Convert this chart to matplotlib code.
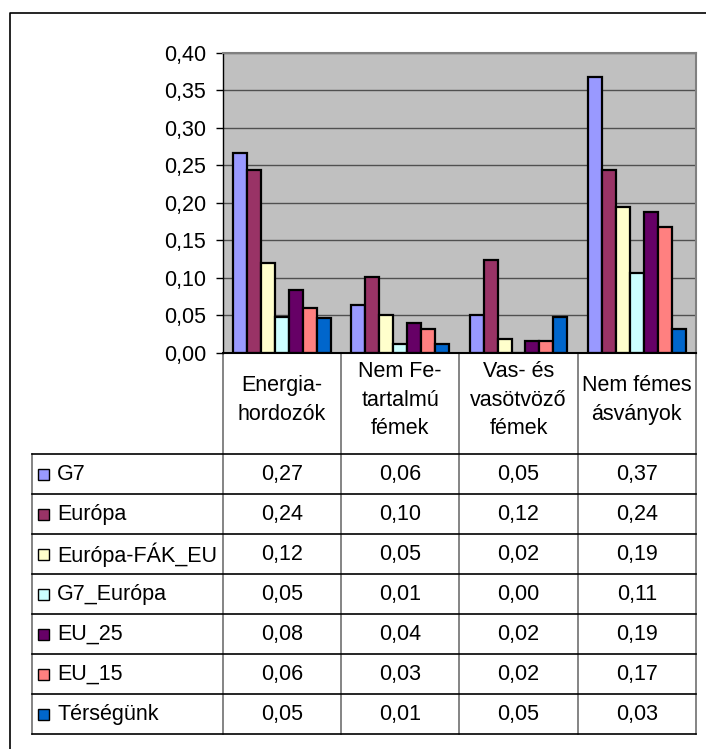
import matplotlib
matplotlib.use("Agg")
import matplotlib.pyplot as plt
from matplotlib.patches import Rectangle
from matplotlib.ticker import FuncFormatter, MultipleLocator
import numpy as np

plt.rcParams['font.family'] = ['Liberation Sans', 'DejaVu Sans']

categories = ["Energia-\nhordozók", "Nem Fe-\ntartalmú\nfémek",
              "Vas- és\nvasötvöző\nfémek", "Nem fémes\násványok"]
series_names = ["G7", "Európa", "Európa-FÁK_EU", "G7_Európa",
                "EU_25", "EU_15", "Térségünk"]
g7 = [0.266, 0.064, 0.050, 0.368]
europa = [0.243, 0.101, 0.124, 0.243]
europa_fak_eu = [0.120, 0.050, 0.018, 0.194]
g7_europa = [0.048, 0.011, 0.000, 0.106]
eu_25 = [0.084, 0.040, 0.016, 0.187]
eu_15 = [0.059, 0.032, 0.016, 0.168]
tersegunk = [0.046, 0.011, 0.048, 0.032]
series_values = [g7, europa, europa_fak_eu, g7_europa, eu_25, eu_15, tersegunk]
colors = ["#9999FF", "#993366", "#FFFFCC", "#CCFFFF", "#660066", "#FF8080", "#0066CC"]

W, H = 706, 749
FS = 15.5
fig = plt.figure(figsize=(W / 100, H / 100), dpi=100)

# pixel geometry of the plot area and data table
px_left, px_right = 222.7, 696.0
px_top, px_bottom = 52.7, 352.7
tbl_left = 31.7
row_top = 454.3
row_h = 40.0

ax = fig.add_axes([px_left / W, 1 - px_bottom / H,
                   (px_right - px_left) / W, (px_bottom - px_top) / H])
ax.set_facecolor("#C0C0C0")
n = len(series_values)
bw = 1 / (n + 1.5)
x = np.arange(len(categories))
for i, (vals, c) in enumerate(zip(series_values, colors)):
    ax.bar(x + (i - (n - 1) / 2) * bw, vals, width=bw, color=c,
           edgecolor="black", linewidth=1.6, zorder=3)
ax.set_xlim(-0.5, len(categories) - 0.5)
ax.set_ylim(0, 0.40)
ax.yaxis.set_major_locator(MultipleLocator(0.05))
ax.yaxis.set_major_formatter(FuncFormatter(lambda v, p: f"{v:.2f}".replace(".", ",")))
ax.grid(axis="y", color="#505050", linewidth=1.0, zorder=1)
ax.set_xticks([])
ax.tick_params(axis="y", direction="out", length=5, width=1, pad=7, labelsize=FS)
for s in ("top", "right"):
    ax.spines[s].set_color("#808080")
    ax.spines[s].set_linewidth(1.5)
ax.spines["left"].set_color("black")
ax.spines["bottom"].set_color("black")
ax.spines["left"].set_linewidth(1.0)
ax.spines["bottom"].set_linewidth(1.5)
ax.spines["bottom"].set_zorder(5)

# overlay in pixel coordinates for the frame and the data table
ov = fig.add_axes([0, 0, 1, 1], zorder=-1)
ov.set_xlim(0, W)
ov.set_ylim(H, 0)
ov.axis("off")

# outer chart frame
ov.plot([10, 10, W + 5], [H + 5, 13.3, 13.3], color="black", linewidth=1.2)

col_w = (px_right - px_left) / len(categories)
col_edges = [px_left + k * col_w for k in range(len(categories) + 1)]
row_bottom = row_top + row_h * n
grey = "#707070"

# vertical table lines
for xe in col_edges:
    ov.plot([xe, xe], [px_bottom, row_bottom], color=grey, linewidth=1.2)
ov.plot([tbl_left, tbl_left], [row_top, row_bottom], color=grey, linewidth=1.2)
# horizontal table lines
for r in range(n + 1):
    y = row_top + r * row_h
    ov.plot([tbl_left, px_right], [y, y], color="black", linewidth=1.2)

# category headers
for k, cat in enumerate(categories):
    ov.text((col_edges[k] + col_edges[k + 1]) / 2, 400, cat, ha="center",
            va="center", fontsize=FS, linespacing=1.45)

# series rows
for i, (name, vals, c) in enumerate(zip(series_names, series_values, colors)):
    yc = row_top + (i + 0.5) * row_h
    ov.add_patch(Rectangle((38, yc - 5.5), 11, 11, facecolor=c,
                           edgecolor="black", linewidth=1.0))
    ov.text(57, yc, name, ha="left", va="center", fontsize=FS)
    for k, v in enumerate(vals):
        ov.text((col_edges[k] + col_edges[k + 1]) / 2, yc,
                f"{v:.2f}".replace(".", ","), ha="center", va="center", fontsize=FS)

fig.savefig("out.png", dpi=100)
